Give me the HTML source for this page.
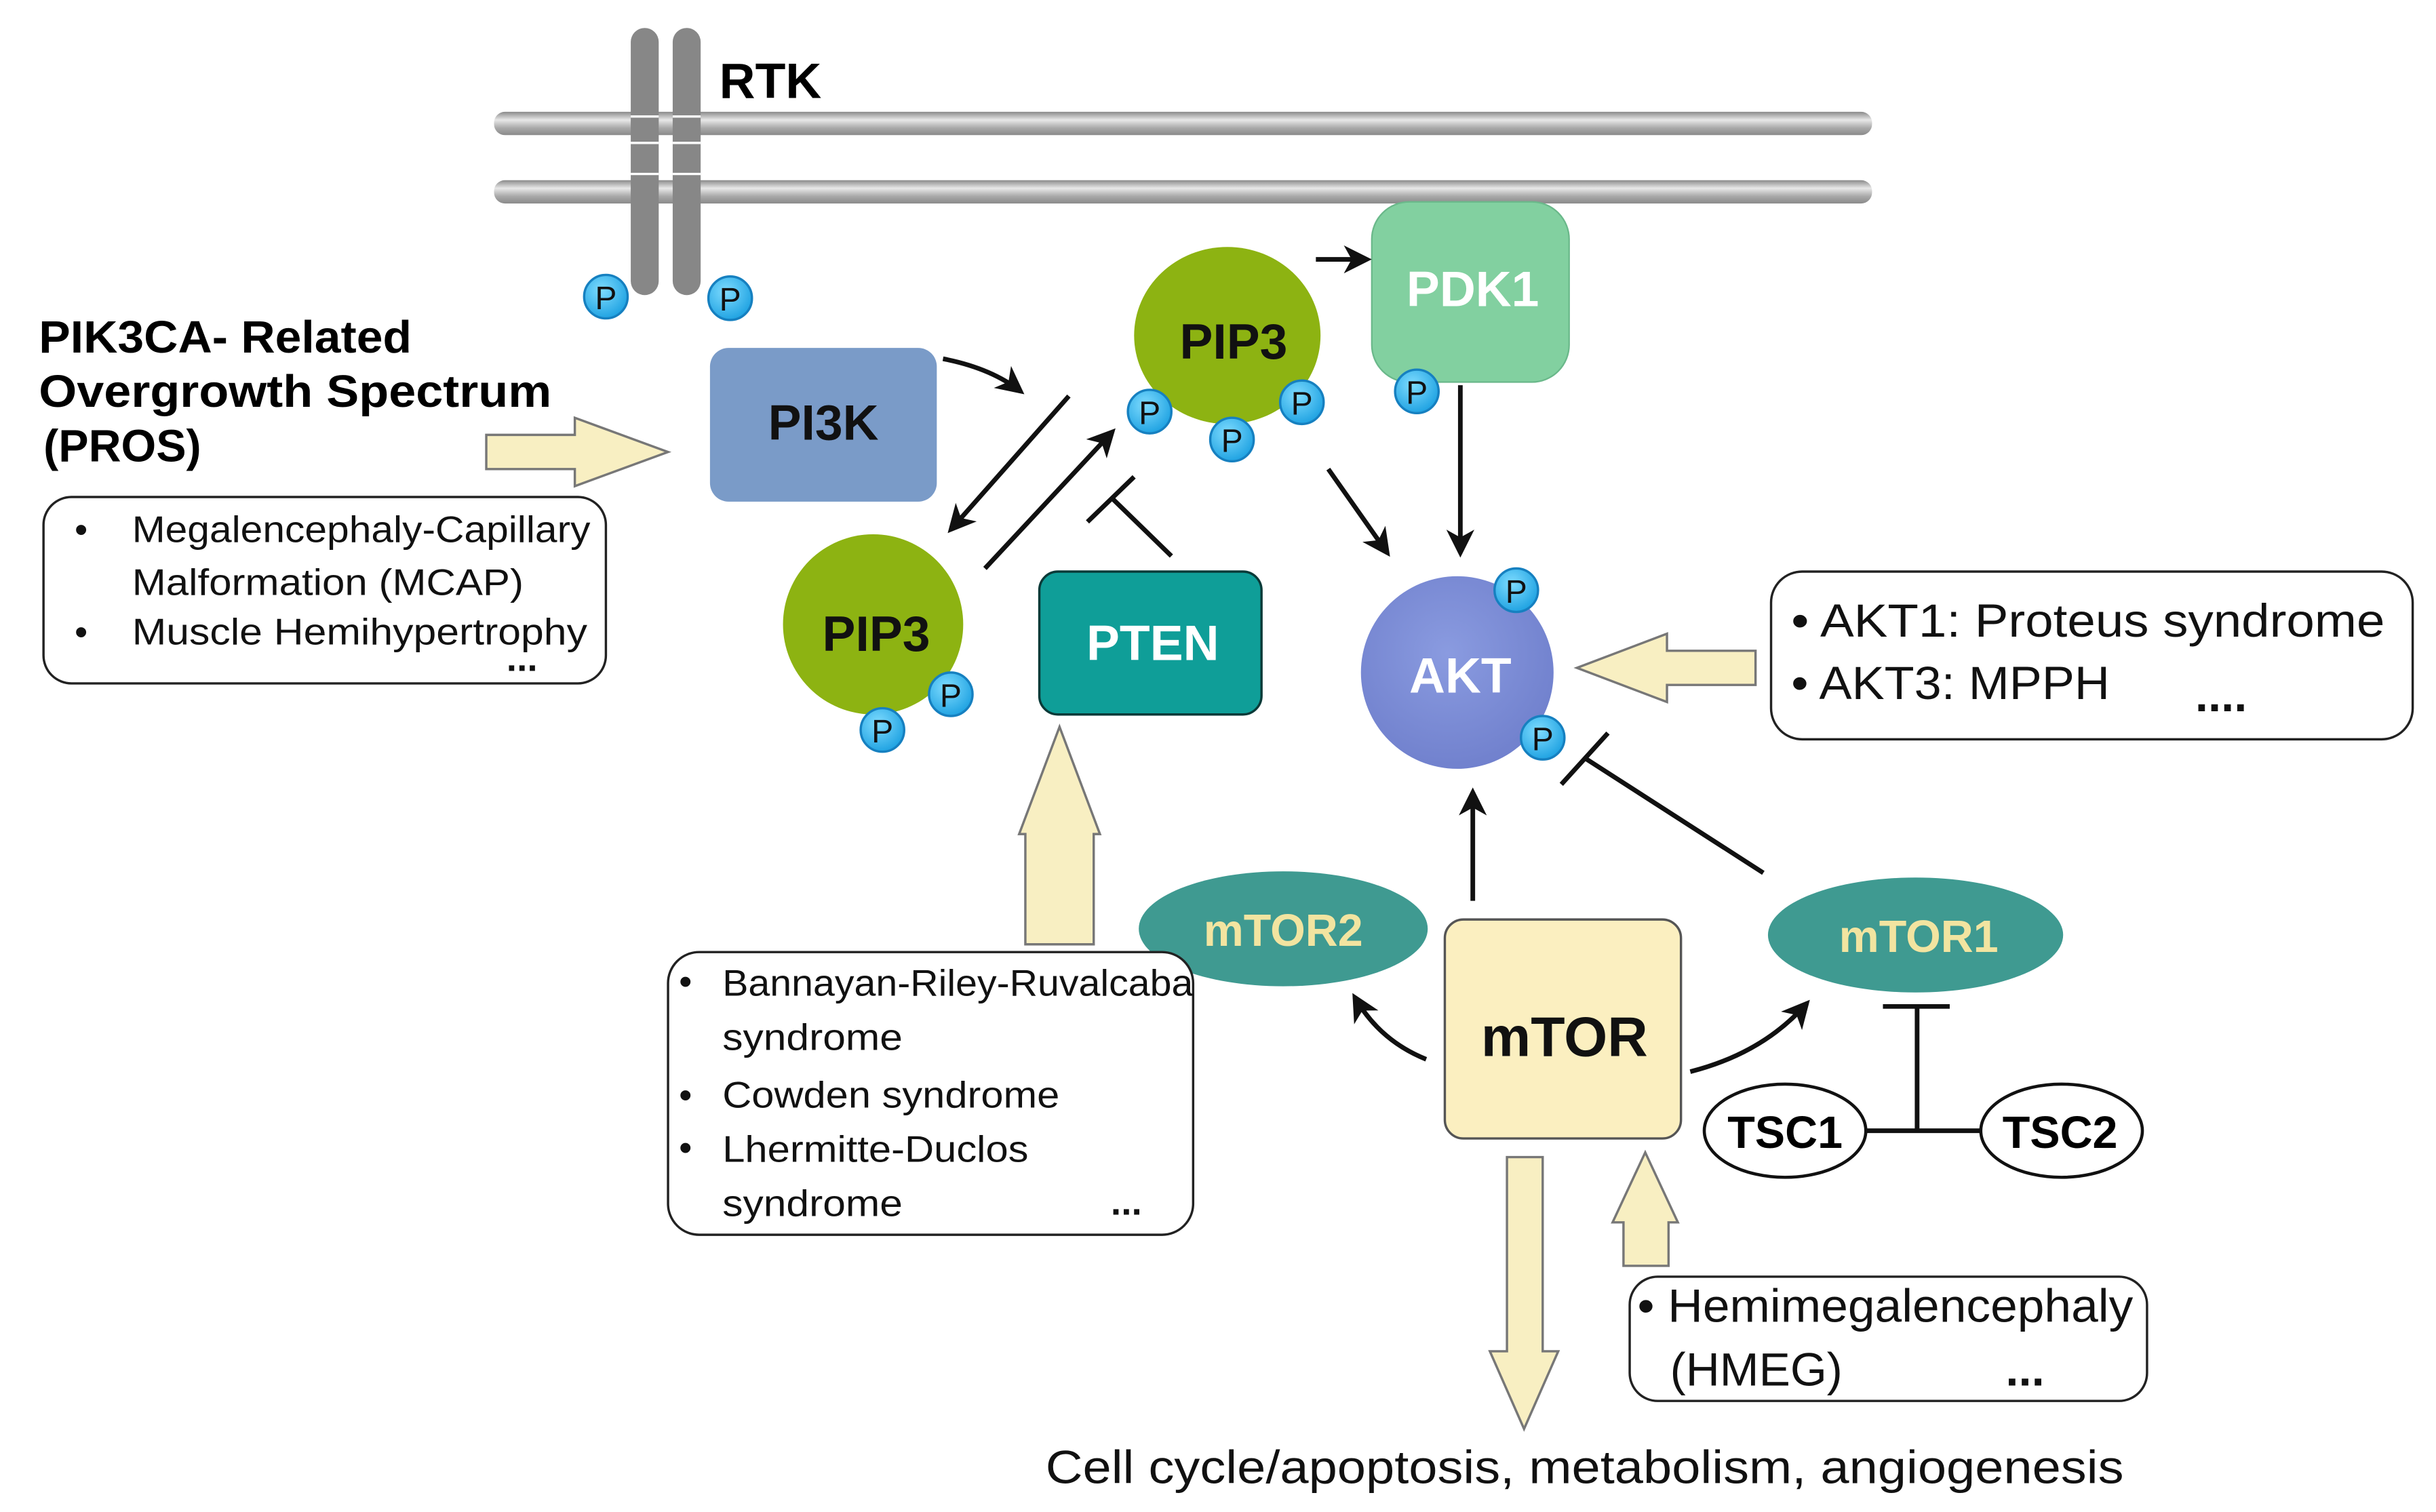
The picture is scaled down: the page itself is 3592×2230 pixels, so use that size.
<!DOCTYPE html>
<html><head><meta charset="utf-8"><style>
html,body{margin:0;padding:0;background:#fff;}
svg{display:block;}
text{font-family:"Liberation Sans","DejaVu Sans",sans-serif;}
.b{font-weight:bold;}
</style></head><body>
<svg width="3592" height="2230" viewBox="0 0 1568 973.5" preserveAspectRatio="none" xmlns="http://www.w3.org/2000/svg">
<defs>
<linearGradient id="mem" x1="0" y1="0" x2="0" y2="1">
<stop offset="0" stop-color="#8a8a8a"/><stop offset="0.35" stop-color="#e8e8e8"/><stop offset="0.7" stop-color="#a8a8a8"/><stop offset="1" stop-color="#8a8a8a"/></linearGradient>
<radialGradient id="pg" cx="0.4" cy="0.35" r="0.7"><stop offset="0" stop-color="#7fdcff"/><stop offset="1" stop-color="#1a9fe0"/></radialGradient>
<radialGradient id="akt" cx="0.45" cy="0.4" r="0.65"><stop offset="0" stop-color="#8a9be0"/><stop offset="1" stop-color="#6f7fcc"/></radialGradient>
<marker id="ah2" markerWidth="18" markerHeight="18" refX="15" refY="9" orient="auto" markerUnits="userSpaceOnUse" viewBox="0 0 18 18"><path d="M0,0 L18,9 L0,18 L5,9z" fill="#111"/></marker>
<g id="P"><circle r="14" fill="url(#pg)" stroke="#1680c0" stroke-width="1.5"/><text y="8" text-anchor="middle" font-size="21" fill="#111">P</text></g>
</defs>

<rect x="318" y="72" width="887" height="15" rx="7" fill="url(#mem)"/>
<rect x="318" y="116" width="887" height="15" rx="7" fill="url(#mem)"/>
<rect x="406" y="18" width="18" height="172" rx="9" fill="#878787"/>
<rect x="433" y="18" width="18" height="172" rx="9" fill="#878787"/>
<g stroke="#fff" stroke-width="1.5">
<line x1="406" y1="75" x2="424" y2="75"/><line x1="433" y1="75" x2="451" y2="75"/>
<line x1="406" y1="92" x2="424" y2="92"/><line x1="433" y1="92" x2="451" y2="92"/>
<line x1="406" y1="112" x2="424" y2="112"/><line x1="433" y1="112" x2="451" y2="112"/>
</g>
<text x="463" y="63" class="b" font-size="32">RTK</text>

<text x="25" y="227" class="b" font-size="29" textLength="240" lengthAdjust="spacingAndGlyphs">PIK3CA- Related</text>
<text x="25" y="262" class="b" font-size="29" textLength="330" lengthAdjust="spacingAndGlyphs">Overgrowth Spectrum</text>
<text x="28" y="297" class="b" font-size="29">(PROS)</text>
<path d="M313,280 L370,280 L370,269 L430,291 L370,313 L370,302 L313,302z" fill="#f8efc2" stroke="#777" stroke-width="1.5"/>
<rect x="28" y="320" width="362" height="120" rx="18" fill="#fff" stroke="#222" stroke-width="1.5"/>
<g font-size="24" fill="#111">
<text x="48" y="349">•</text><text x="85" y="349" textLength="295" lengthAdjust="spacingAndGlyphs">Megalencephaly-Capillary</text>
<text x="85" y="383" textLength="252" lengthAdjust="spacingAndGlyphs">Malformation (MCAP)</text>
<text x="48" y="415">•</text><text x="85" y="415" textLength="293" lengthAdjust="spacingAndGlyphs">Muscle Hemihypertrophy</text>
<text x="326" y="432" class="b">...</text>
</g>

<rect x="457" y="224" width="146" height="99" rx="12" fill="#7a9bc8"/>
<text x="530" y="283" text-anchor="middle" class="b" font-size="32" fill="#111">PI3K</text>

<ellipse cx="790" cy="216" rx="60" ry="57" fill="#8db312"/>
<text x="794" y="231" text-anchor="middle" class="b" font-size="32" fill="#111">PIP3</text>
<circle cx="562" cy="402" r="58" fill="#8db312"/>
<text x="564" y="419" text-anchor="middle" class="b" font-size="32" fill="#111">PIP3</text>

<rect x="883" y="130" width="127" height="116" rx="24" fill="#82d0a0" stroke="#6ab88a" stroke-width="1"/>
<text x="948" y="197" text-anchor="middle" class="b" font-size="32" fill="#fff">PDK1</text>

<rect x="669" y="368" width="143" height="92" rx="12" fill="#0f9e98" stroke="#0a3a38" stroke-width="1.5"/>
<text x="742" y="425" text-anchor="middle" class="b" font-size="32" fill="#fff">PTEN</text>

<circle cx="938" cy="433" r="62" fill="url(#akt)"/>
<text x="940" y="446" text-anchor="middle" class="b" font-size="32" fill="#fff">AKT</text>

<use href="#P" x="390" y="191"/><use href="#P" x="470" y="192"/>
<use href="#P" x="740" y="265"/><use href="#P" x="793" y="283"/><use href="#P" x="838" y="259"/>
<use href="#P" x="912" y="252"/><use href="#P" x="976" y="380"/><use href="#P" x="993" y="475"/>
<use href="#P" x="612" y="447"/><use href="#P" x="568" y="470"/>

<g stroke="#111" stroke-width="3" fill="none">
<path d="M607,231 Q638,237 657,252" marker-end="url(#ah2)"/>
<line x1="688" y1="255" x2="612" y2="341" marker-end="url(#ah2)"/>
<line x1="634" y1="366" x2="716" y2="278" marker-end="url(#ah2)"/>
<line x1="754" y1="358" x2="716" y2="321"/>
<line x1="700" y1="336" x2="730" y2="307"/>
<line x1="847" y1="167" x2="880" y2="167" marker-end="url(#ah2)"/>
<line x1="855" y1="302" x2="893" y2="356" marker-end="url(#ah2)"/>
<line x1="940" y1="248" x2="940" y2="356" marker-end="url(#ah2)"/>
<line x1="948" y1="580" x2="948" y2="510" marker-end="url(#ah2)"/>
<line x1="1135" y1="562" x2="1020" y2="488"/>
<line x1="1005" y1="505" x2="1035" y2="472"/>
<path d="M918,682 Q888,670 872,642" marker-end="url(#ah2)"/>
<path d="M1088,690 Q1135,678 1163,646" marker-end="url(#ah2)"/>
<line x1="1201" y1="728" x2="1275" y2="728"/>
<line x1="1234" y1="728" x2="1234" y2="648"/>
<line x1="1212" y1="648" x2="1255" y2="648"/>
</g>

<path d="M1130,419 L1073,419 L1073,408 L1015,430 L1073,452 L1073,441 L1130,441z" fill="#f8efc2" stroke="#777" stroke-width="1.5"/>
<rect x="1140" y="368" width="413" height="108" rx="20" fill="#fff" stroke="#222" stroke-width="1.5"/>
<g font-size="30" fill="#111">
<text x="1153" y="410" textLength="382" lengthAdjust="spacingAndGlyphs">• AKT1: Proteus  syndrome</text>
<text x="1153" y="450" textLength="205" lengthAdjust="spacingAndGlyphs">• AKT3: MPPH</text>
<text x="1413" y="458" class="b">....</text>
</g>

<ellipse cx="826" cy="598" rx="93" ry="37" fill="#3f9a91"/>
<text x="826" y="609" text-anchor="middle" class="b" font-size="29" fill="#f2e4a0">mTOR2</text>
<ellipse cx="1233" cy="602" rx="95" ry="37" fill="#3f9a91"/>
<text x="1235" y="613" text-anchor="middle" class="b" font-size="29" fill="#f2e4a0">mTOR1</text>
<rect x="930" y="592" width="152" height="141" rx="12" fill="#fbefc0" stroke="#555" stroke-width="1.5"/>
<text x="1007" y="680" text-anchor="middle" class="b" font-size="36" fill="#111">mTOR</text>
<ellipse cx="1149" cy="728" rx="52" ry="30" fill="#fff" stroke="#111" stroke-width="2"/>
<text x="1149" y="739" text-anchor="middle" class="b" font-size="29">TSC1</text>
<ellipse cx="1327" cy="728" rx="52" ry="30" fill="#fff" stroke="#111" stroke-width="2"/>
<text x="1326" y="739" text-anchor="middle" class="b" font-size="29">TSC2</text>

<path d="M660,608 L660,537 L656,537 L682,468 L708,537 L704,537 L704,608z" fill="#f8efc2" stroke="#777" stroke-width="1.5"/>
<rect x="430" y="613" width="338" height="182" rx="20" fill="#fff" stroke="#222" stroke-width="1.5"/>
<g font-size="24" fill="#111">
<text x="437" y="640">•</text><text x="465" y="641" textLength="303" lengthAdjust="spacingAndGlyphs">Bannayan-Riley-Ruvalcaba</text>
<text x="465" y="676" textLength="116" lengthAdjust="spacingAndGlyphs">syndrome</text>
<text x="437" y="713">•</text><text x="465" y="713" textLength="217" lengthAdjust="spacingAndGlyphs">Cowden syndrome</text>
<text x="437" y="747">•</text><text x="465" y="748" textLength="197" lengthAdjust="spacingAndGlyphs">Lhermitte-Duclos</text>
<text x="465" y="783" textLength="116" lengthAdjust="spacingAndGlyphs">syndrome</text>
<text x="715" y="782" class="b">...</text>
</g>

<path d="M970,745 L993,745 L993,870 L1003,870 L981,920 L959,870 L970,870z" fill="#f8efc2" stroke="#777" stroke-width="1.5"/>
<path d="M1045,815 L1045,787 L1038,787 L1059,742 L1080,787 L1074,787 L1074,815z" fill="#f8efc2" stroke="#777" stroke-width="1.5"/>
<rect x="1049" y="822" width="333" height="80" rx="18" fill="#fff" stroke="#222" stroke-width="1.5"/>
<g font-size="30" fill="#111">
<text x="1054" y="851" textLength="319" lengthAdjust="spacingAndGlyphs">• Hemimegalencephaly</text>
<text x="1075" y="892" textLength="111" lengthAdjust="spacingAndGlyphs">(HMEG)</text>
<text x="1291" y="892" class="b">...</text>
</g>

<text x="673" y="955" font-size="30" fill="#111" textLength="694" lengthAdjust="spacingAndGlyphs">Cell cycle/apoptosis, metabolism, angiogenesis</text>
</svg>
</body></html>
